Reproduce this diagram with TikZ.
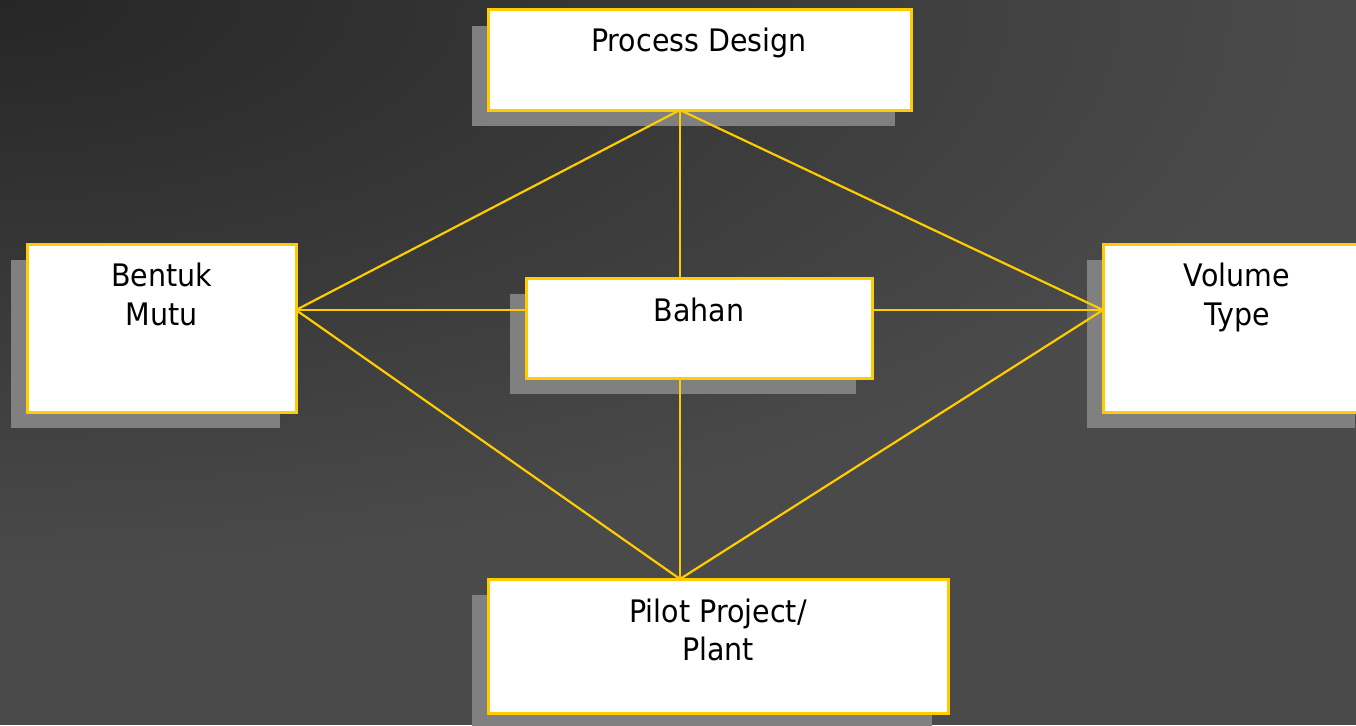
\documentclass[tikz,border=0pt]{standalone}
\usepackage{fontspec}
\setmainfont{DejaVu Sans}[FakeStretch=0.92]
\usetikzlibrary{calc}
\definecolor{bgdark}{HTML}{262626}
\definecolor{bglight}{HTML}{4A4A4A}
\definecolor{gold}{HTML}{FFCC00}
\definecolor{shadowgray}{HTML}{808080}
\pgfdeclarelayer{shadowlayer}
\pgfdeclarelayer{linklayer}
\pgfdeclarelayer{bglayer}
\pgfsetlayers{bglayer,shadowlayer,linklayer,main}
\begin{document}
\begin{tikzpicture}[x=1pt,y=1pt,
  box/.style={rectangle, fill=white, draw=gold, line width=3pt, inner sep=0pt, outer sep=0pt},
  lbl/.style={anchor=base, inner sep=0pt, font=\fontsize{31}{39}\selectfont, text=black},
  link/.style={draw=gold, line width=2.2pt},
  shadowbox/.style={fill=shadowgray}]
\useasboundingbox (0,0) rectangle (1356,-725);
% background
\begin{pgfonlayer}{bglayer}
\begin{scope}
\clip (0,0) rectangle (1356,-725);
\fill[bglight] (0,0) rectangle (1356,-725);
\shade[inner color=bgdark, outer color=bglight] (0,0) ellipse [x radius=1320, y radius=570];
\end{scope}
\end{pgfonlayer}
% boxes
\node[box, minimum width=423pt, minimum height=100pt] (pd) at (699.5,-60) {};
\node[box, minimum width=269pt, minimum height=168pt] (bm) at (161.5,-328) {};
\node[box, minimum width=346pt, minimum height=100pt] (bh) at (699,-328) {};
\node[box, minimum width=268pt, minimum height=168pt] (vt) at (1237,-328) {};
\node[box, minimum width=460pt, minimum height=134pt] (pp) at (718,-646) {};
% shadows
\begin{pgfonlayer}{shadowlayer}
\foreach \b in {pd,bm,bh,vt,pp}{
  \fill[shadowbox] ($(\b.south west)+(-16,-16)$) rectangle ($(\b.north east)+(-16,-16)$);
}
\end{pgfonlayer}
% connection points
\coordinate (pdB) at (680,-110);
\coordinate (bmE) at (296,-310);
\coordinate (vtW) at (1103,-310);
\coordinate (bhT) at (680,-278);
\coordinate (bhB) at (680,-378);
\coordinate (bhW) at (526,-310);
\coordinate (bhE) at (872,-310);
\coordinate (ppN) at (680,-579);
\begin{pgfonlayer}{linklayer}
\draw[link] (pdB) -- (bmE);
\draw[link] (pdB) -- (vtW);
\draw[link] (pdB) -- (bhT);
\draw[link] (bmE) -- (bhW);
\draw[link] (bhE) -- (vtW);
\draw[link] (bhB) -- (ppN);
\draw[link] (bmE) -- (ppN);
\draw[link] (vtW) -- (ppN);
\end{pgfonlayer}
% labels
\node[lbl] (tpd) at (699,-52) {Process Design};
\node[lbl] (tbm1) at (161.5,-286) {Bentuk};
\node[lbl] (tbm2) at (161.5,-325) {Mutu};
\node[lbl] (tbh) at (699,-321) {Bahan};
\node[lbl] (tvt1) at (1237,-286) {Volume};
\node[lbl] (tvt2) at (1237,-325) {Type};
\node[lbl] (tpp1) at (718,-622) {Pilot Project/};
\node[lbl] (tpp2) at (718,-660) {Plant};
\end{tikzpicture}
\end{document}
